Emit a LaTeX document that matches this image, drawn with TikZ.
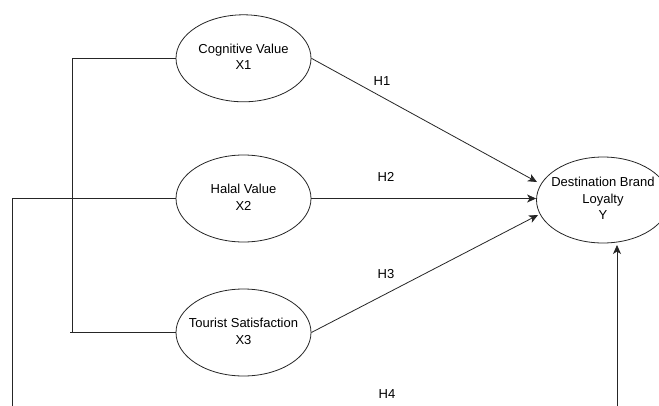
\documentclass[tikz,border=0pt]{standalone}
\usepackage{fontspec}
\setmainfont{Liberation Sans}
\usetikzlibrary{shapes.geometric,arrows.meta}
\newcommand{\elltext}[1]{\makebox[0pt][c]{\begin{tabular}{@{}c@{}}#1\end{tabular}}}
\begin{document}
\begin{tikzpicture}[x=1pt,y=-1pt,
  latent/.style={draw=black!85,line width=0.8pt,ellipse,minimum width=135pt,minimum height=87pt,inner sep=0pt,font=\fontsize{13}{16.5}\selectfont},
  conn/.style={draw=black!85,line width=0.8pt},
  arr/.style={conn,-{Stealth[length=9pt,width=8pt,inset=2.5pt]}},
  hlabel/.style={font=\fontsize{13}{15}\selectfont}]
\useasboundingbox (0,0) rectangle (659,405);
\clip (0,0) rectangle (659,405);
\fill[white] (0,0) rectangle (659,405);
\node[latent] (X1) at (243.5,58.3) {\elltext{Cognitive Value\\X1}};
\node[latent] (X2) at (243.5,198.5) {\elltext{Halal Value\\X2}};
\node[latent] (X3) at (243.5,332.5) {\elltext{Tourist Satisfaction\\X3}};
\node[latent,minimum width=133pt,minimum height=86pt] (Y) at (603,200) {\elltext{Destination Brand\\Loyalty\\Y}};
\coordinate (t1) at (537,182);
\coordinate (t3) at (538,215);
\coordinate (t4) at (617,245);
\coordinate (b1) at (72.7,58.3);
\coordinate (b2) at (72.7,332.5);
\coordinate (b3) at (70,332.5);
\coordinate (l1) at (12,198.5);
\coordinate (l2) at (12,425);
\coordinate (l3) at (617,425);
% bracket
\draw[conn] (X1.west) -- (b1) -- (b2);
\draw[conn] (b3) -- (X3.west);
% hypotheses
\draw[arr] (X1.east) -- (t1);
\draw[arr] (X2.east) -- (X2.east -| Y.west);
\draw[arr] (X3.east) -- (t3);
\draw[arr] (X2.west) -- (l1) -- (l2) -- (l3) -- (t4);
\node[hlabel] (h1) at (382,81) {H1};
\node[hlabel] (h2) at (386,177) {H2};
\node[hlabel] (h3) at (386,274) {H3};
\node[hlabel] (h4) at (387,394) {H4};
\end{tikzpicture}
\end{document}
